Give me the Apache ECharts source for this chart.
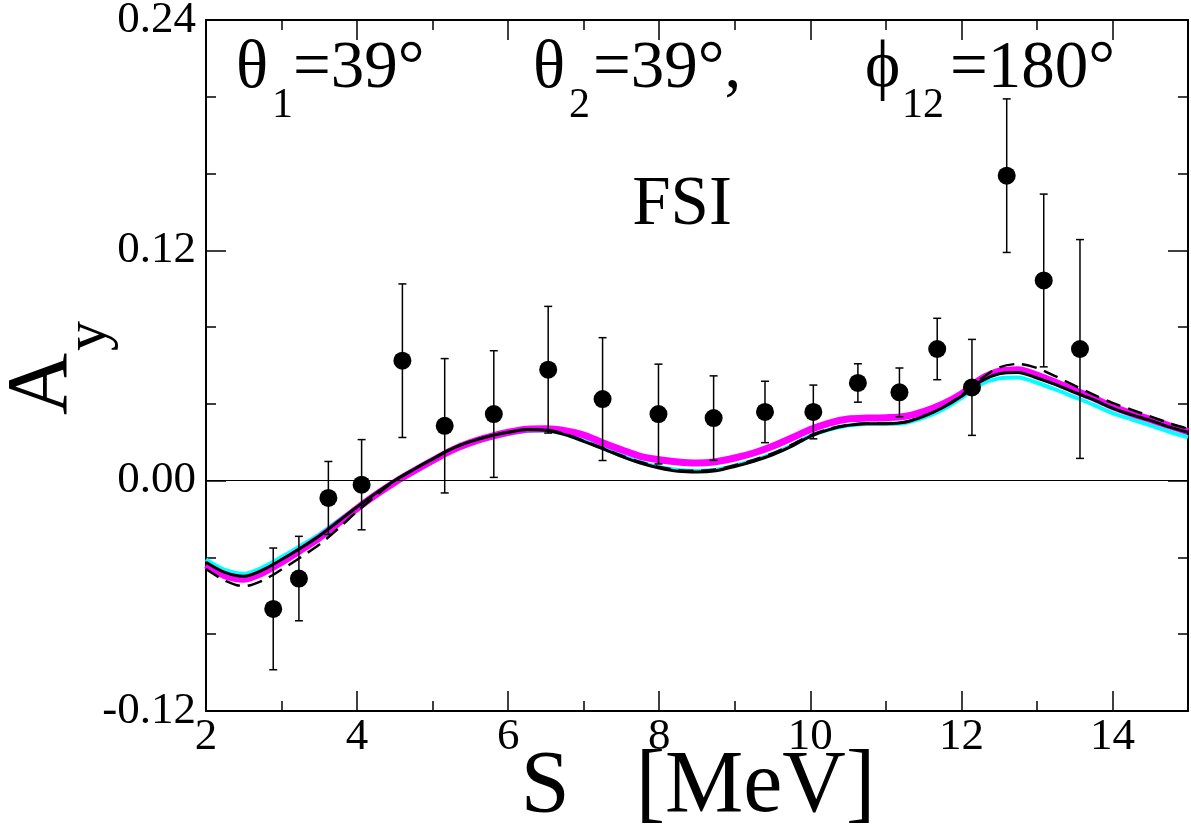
<!DOCTYPE html>
<html><head><meta charset="utf-8">
<script src="https://cdn.jsdelivr.net/npm/echarts@6/dist/echarts.min.js"></script>
<style>html,body{margin:0;padding:0;background:#fff}#c{width:1191px;height:826px}</style>
</head><body><div id="c"></div>
<script>
// Theory curves (S in MeV, A_y)
const curveS = [2.0,2.25,2.5,2.75,3.0,3.25,3.5,3.75,4.0,4.25,4.5,4.75,5.0,5.25,5.5,5.75,6.0,6.25,6.5,6.75,7.0,7.25,7.5,7.75,8.0,8.25,8.5,8.75,9.0,9.25,9.5,9.75,10.0,10.25,10.5,10.75,11.0,11.25,11.5,11.75,12.0,12.25,12.5,12.75,13.0,13.25,13.5,13.75,14.0,14.25,14.5,14.75,15.0];
const curveBlack = [-0.0425,-0.0478,-0.0498,-0.0465,-0.0411,-0.0352,-0.0288,-0.0213,-0.0137,-0.0065,0.0001,0.0058,0.0112,0.0165,0.0203,0.0231,0.0252,0.0266,0.0263,0.0240,0.0205,0.0167,0.0127,0.0092,0.0066,0.0049,0.0045,0.0052,0.0074,0.0101,0.0135,0.0179,0.0231,0.0266,0.0288,0.0297,0.0297,0.0304,0.0335,0.0380,0.0440,0.0517,0.0557,0.0564,0.0535,0.0500,0.0460,0.0422,0.0378,0.0344,0.0314,0.0280,0.0252];
const curveDashed = [-0.0460,-0.0520,-0.0550,-0.0520,-0.0463,-0.0400,-0.0333,-0.0250,-0.0160,-0.0078,0.0000,0.0060,0.0115,0.0167,0.0205,0.0232,0.0253,0.0267,0.0265,0.0243,0.0208,0.0170,0.0131,0.0097,0.0071,0.0055,0.0051,0.0058,0.0080,0.0108,0.0142,0.0186,0.0236,0.0270,0.0290,0.0298,0.0299,0.0306,0.0337,0.0382,0.0445,0.0528,0.0590,0.0608,0.0587,0.0543,0.0495,0.0448,0.0405,0.0370,0.0335,0.0300,0.0270];
const curveMagenta = [-0.0440,-0.0495,-0.0513,-0.0480,-0.0425,-0.0363,-0.0298,-0.0222,-0.0145,-0.0073,-0.0008,0.0050,0.0105,0.0158,0.0198,0.0228,0.0252,0.0268,0.0270,0.0260,0.0238,0.0198,0.0161,0.0127,0.0109,0.0097,0.0092,0.0099,0.0118,0.0144,0.0179,0.0222,0.0266,0.0300,0.0321,0.0326,0.0328,0.0335,0.0360,0.0398,0.0452,0.0527,0.0570,0.0578,0.0550,0.0512,0.0470,0.0430,0.0386,0.0350,0.0319,0.0286,0.0256];
const curveCyan = [-0.0410,-0.0465,-0.0485,-0.0452,-0.0398,-0.0340,-0.0280,-0.0208,-0.0138,-0.0072,-0.0010,0.0043,0.0098,0.0152,0.0191,0.0220,0.0243,0.0259,0.0262,0.0242,0.0208,0.0170,0.0131,0.0097,0.0071,0.0055,0.0051,0.0057,0.0079,0.0106,0.0140,0.0183,0.0233,0.0266,0.0287,0.0295,0.0295,0.0300,0.0328,0.0370,0.0430,0.0500,0.0533,0.0538,0.0510,0.0474,0.0435,0.0395,0.0352,0.0320,0.0288,0.0255,0.0226];
// Experimental data
const dataS = [2.89,3.23,3.62,4.06,4.60,5.16,5.81,6.53,7.25,7.99,8.72,9.40,10.04,10.63,11.18,11.68,12.14,12.60,13.09,13.57];
const dataAy = [-0.0668,-0.0510,-0.0090,-0.0021,0.0625,0.0286,0.0347,0.0578,0.0425,0.0347,0.0326,0.0358,0.0358,0.0509,0.0460,0.0686,0.0486,0.1589,0.1043,0.0686];
const dataErr = [0.0317,0.0220,0.0190,0.0235,0.0400,0.0350,0.0330,0.0330,0.0320,0.0260,0.0220,0.0160,0.0140,0.0100,0.0127,0.0160,0.0250,0.0400,0.0450,0.0570];
// Axis settings
const xMin = 2, xMax = 15, xMajor = 2, xMinor = 1;
const yMin = -0.12, yMax = 0.24, yMajor = 0.12;

const FONT = '"Liberation Serif", "DejaVu Serif", serif';
const chart = echarts.init(document.getElementById('c'), null, {renderer:'canvas'});
const pairs = (ys) => curveS.map((s,i)=>[s, ys[i]]);
const axisLineStyle = {color:'#000', width:2};
const tickStyle = {color:'#000', width:1.5};
function xAx(pos, major, labels){
  return {type:'value', gridIndex:0, position:pos, min:xMin, max:xMax, interval: major?xMajor:xMinor,
    axisLine:{show:major, onZero:false, lineStyle:axisLineStyle},
    axisTick:{show:true, inside:true, length: major?20:10, lineStyle:tickStyle},
    axisLabel:{show:labels, fontSize:45, fontFamily:FONT, color:'#000', margin:4, showMaxLabel:false},
    splitLine:{show:false}};
}
function yAx(pos, labels){
  return {type:'value', gridIndex:0, position:pos, min:yMin, max:yMax, interval:yMajor,
    axisLine:{show:true, onZero:false, lineStyle:axisLineStyle},
    axisTick:{show:true, inside:true, length:20, lineStyle:tickStyle},
    minorTick:{show:true, splitNumber:3, length:10, lineStyle:tickStyle},
    axisLabel:{show:labels, fontSize:45, fontFamily:FONT, color:'#000', margin:10, padding:[6,0,0,0],
      formatter:(v)=>v.toFixed(2)},
    splitLine:{show:false}, minorSplitLine:{show:false}};
}
const txt = (x, y, text, size, align) => ({type:'text', x:x, y:y,
  style:{text:text, fontSize:size, fontFamily:FONT, fill:'#000', align:align||'left', verticalAlign:'middle'}});
const option = {
  animation:false,
  backgroundColor:'#fff',
  grid:{left:206, right:3, top:20, bottom:115, containLabel:false, outerBoundsMode:'none'},
  xAxis:[xAx('bottom',true,true), xAx('bottom',false,false), xAx('top',true,false), xAx('top',false,false)],
  yAxis:[yAx('left',true), yAx('right',false)],
  series:[
    {type:'line', name:'cyan', data:pairs(curveCyan), showSymbol:false, smooth:0.3, lineStyle:{color:'#00ffff', width:4}, z:2},
    {type:'line', name:'magenta', data:pairs(curveMagenta), showSymbol:false, smooth:0.3, lineStyle:{color:'#ff00ff', width:7}, z:3},
    {type:'line', name:'black', data:pairs(curveBlack), showSymbol:false, smooth:0.3, lineStyle:{color:'#000', width:3}, z:4},
    {type:'line', name:'dashed', data:pairs(curveDashed), showSymbol:false, smooth:0.3, lineStyle:{color:'#000', width:2.5, type:[15,8]}, z:5},
    {type:'custom', name:'err', data:dataS.map((s,i)=>[s, dataAy[i], dataErr[i]]), encode:{x:0,y:1}, z:6,
      renderItem:(params, api)=>{
        const x = api.value(0), y = api.value(1), e = api.value(2);
        const t = api.coord([x, y+e]), b = api.coord([x, y-e]);
        const cw = 4, st = {stroke:'#000', lineWidth:1.5, fill:null};
        return {type:'group', children:[
          {type:'line', shape:{x1:t[0],y1:t[1],x2:b[0],y2:b[1]}, style:st},
          {type:'line', shape:{x1:t[0]-cw,y1:t[1],x2:t[0]+cw,y2:t[1]}, style:st},
          {type:'line', shape:{x1:b[0]-cw,y1:b[1],x2:b[0]+cw,y2:b[1]}, style:st}
        ]};
      }},
    {type:'scatter', name:'data', data:dataS.map((s,i)=>[s, dataAy[i]]), symbol:'circle', symbolSize:18,
      itemStyle:{color:'#000', opacity:1}, z:7,
      markLine:{silent:true, symbol:['none','none'], label:{show:false}, data:[{yAxis:0}],
        lineStyle:{color:'#000', width:1.2, type:'solid'}, emphasis:{disabled:true}}}
  ],
  graphic:[
    txt(236, 69, 'θ', 67), txt(272, 106, '1', 42), txt(293, 69, '=39°', 67),
    txt(533, 69, 'θ', 67), txt(569, 106, '2', 42), txt(593, 69, '=39°,', 67),
    txt(865, 69, 'ϕ', 67), txt(902, 106, '12', 42), txt(950, 69, '=180°', 67),
    txt(682, 206, 'FSI', 69, 'center'),
    txt(698, 788, 'S   [MeV]', 88, 'center'),
    {type:'text', x:43, y:384, rotation:Math.PI/2, style:{text:'A', fontSize:86, fontFamily:FONT, fill:'#000', align:'center', verticalAlign:'middle'}},
    {type:'text', x:89, y:336, rotation:Math.PI/2, style:{text:'y', fontSize:60, fontFamily:FONT, fill:'#000', align:'center', verticalAlign:'middle'}}
  ]
};
chart.setOption(option);
</script></body></html>
